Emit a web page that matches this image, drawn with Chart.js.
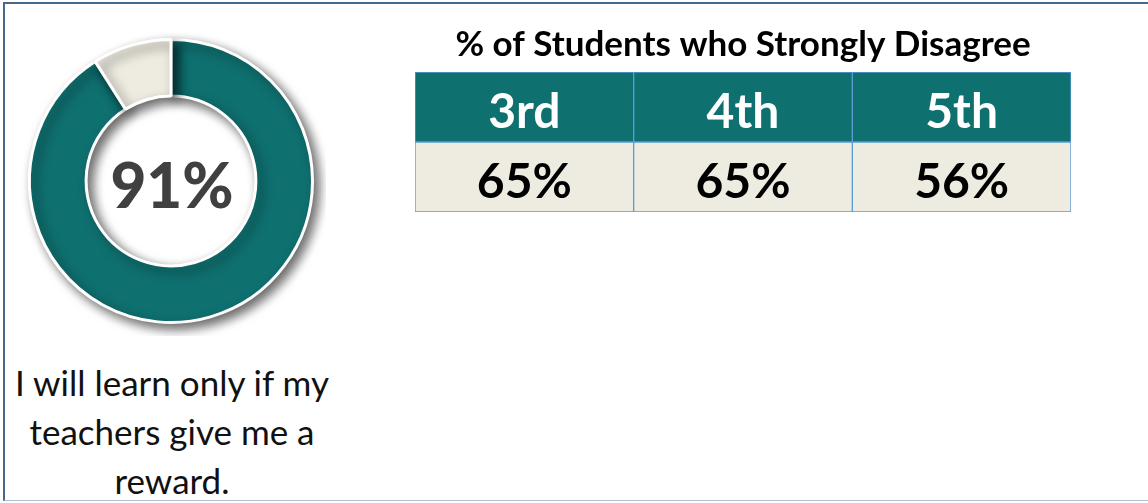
<!DOCTYPE html>
<html>
<head>
<meta charset="utf-8">
<script src="https://cdn.jsdelivr.net/npm/chart.js@4.4.1/dist/chart.umd.min.js"></script>
<style>
  html, body { margin: 0; padding: 0; background: #fff; }
  body { width: 1148px; height: 503px; position: relative; overflow: hidden; font-family: Lato, "Noto Sans", sans-serif; }
  .moldura { position: absolute; left: 3px; top: 2px; width: 1160px; height: 496px;
             border-top: 2px solid #46688c; border-left: 2px solid #46688c; border-bottom: 1px solid #aebfd2; }
  #rosca { position: absolute; left: 16px; top: 26px; width: 310px; height: 310px; }
  #tabela { position: absolute; left: 405px; top: 18px; width: 676px; height: 206px; }
  .legenda { position: absolute; left: 0; top: 358px; width: 344px; text-align: center;
             font-size: 35px; line-height: 49px; color: #111; }
</style>
</head>
<body>
<div class="moldura"></div>
<canvas id="rosca" width="310" height="310"></canvas>
<canvas id="tabela" width="676" height="206"></canvas>
<div class="legenda">I will learn only if my<br>teachers give me a<br>reward.</div>

<script>
// rosca: % que discorda fortemente (total) e o restante
const fatias = ['Strongly Disagree', 'Other'];
const valoresRosca = [91, 9];
const coresRosca = ['#0f7070', '#eeece1'];

// tabela por série
const series = ['3rd', '4th', '5th'];
const percentuais = [65, 65, 56];
const tituloTabela = '% of Students who Strongly Disagree';

// sombra projetada do anel
const sombra = {
  id: 'sombra',
  beforeDatasetDraw(chart) {
    const ctx = chart.ctx;
    ctx.save();
    ctx.shadowColor = 'rgba(0,0,0,0.6)';
    ctx.shadowBlur = 11;
    ctx.shadowOffsetX = 5;
    ctx.shadowOffsetY = 5;
  },
  afterDatasetDraw(chart) { chart.ctx.restore(); }
};

// número no centro da rosca
const textoCentro = {
  id: 'textoCentro',
  afterDraw(chart) {
    const arc = chart.getDatasetMeta(0).data[0];
    const ctx = chart.ctx;
    ctx.save();
    ctx.font = '900 62px Lato';
    ctx.fillStyle = '#404040';
    ctx.textAlign = 'center';
    ctx.textBaseline = 'middle';
    ctx.fillText(valoresRosca[0] + '%', arc.x + 1, arc.y + 7);
    ctx.restore();
  }
};

new Chart(document.getElementById('rosca'), {
  type: 'doughnut',
  data: { labels: fatias, datasets: [{ data: valoresRosca, backgroundColor: coresRosca,
    borderColor: '#fff', borderWidth: 3 }] },
  options: {
    responsive: false, animation: false, cutout: '60%',
    layout: { padding: 12 },
    plugins: { legend: { display: false }, tooltip: { enabled: false } }
  },
  plugins: [sombra, textoCentro]
});

// texto de cada célula, no centro da barra
const rotulosCelulas = {
  id: 'rotulosCelulas',
  afterDatasetsDraw(chart) {
    const ctx = chart.ctx;
    ctx.save();
    ctx.textAlign = 'center';
    ctx.textBaseline = 'middle';
    ctx.font = 'bold 48px Lato';
    chart.getDatasetMeta(0).data.forEach((b, i) => {
      ctx.fillStyle = '#fff';
      ctx.fillText(series[i], b.x, (b.y + b.base) / 2 + 6);
    });
    chart.getDatasetMeta(1).data.forEach((b, i) => {
      ctx.fillStyle = '#000';
      ctx.fillText(percentuais[i] + '%', b.x, (b.y + b.base) / 2 + 6);
    });
    ctx.restore();
  }
};

new Chart(document.getElementById('tabela'), {
  type: 'bar',
  data: {
    labels: series,
    datasets: [
      { label: 'Grade', data: series.map(() => 1), backgroundColor: '#0f7070' },
      { label: 'Percent', data: percentuais.map(() => 1), backgroundColor: '#eeece1' }
    ]
  },
  options: {
    responsive: false, animation: false,
    layout: { padding: { left: 10, right: 10, top: 0, bottom: 12 } },
    datasets: { bar: { barPercentage: 1, categoryPercentage: 1, borderColor: '#5b9bd5',
      borderWidth: 1, borderSkipped: false } },
    scales: {
      x: { stacked: true, display: false },
      y: { stacked: true, display: false, min: 0, max: 2, reverse: true }
    },
    plugins: {
      legend: { display: false }, tooltip: { enabled: false },
      title: { display: true, text: tituloTabela, color: '#000',
        font: { family: 'Lato', size: 35, weight: 'bold' }, padding: { top: 6, bottom: 6 } }
    }
  },
  plugins: [rotulosCelulas]
});
</script>
</body>
</html>
